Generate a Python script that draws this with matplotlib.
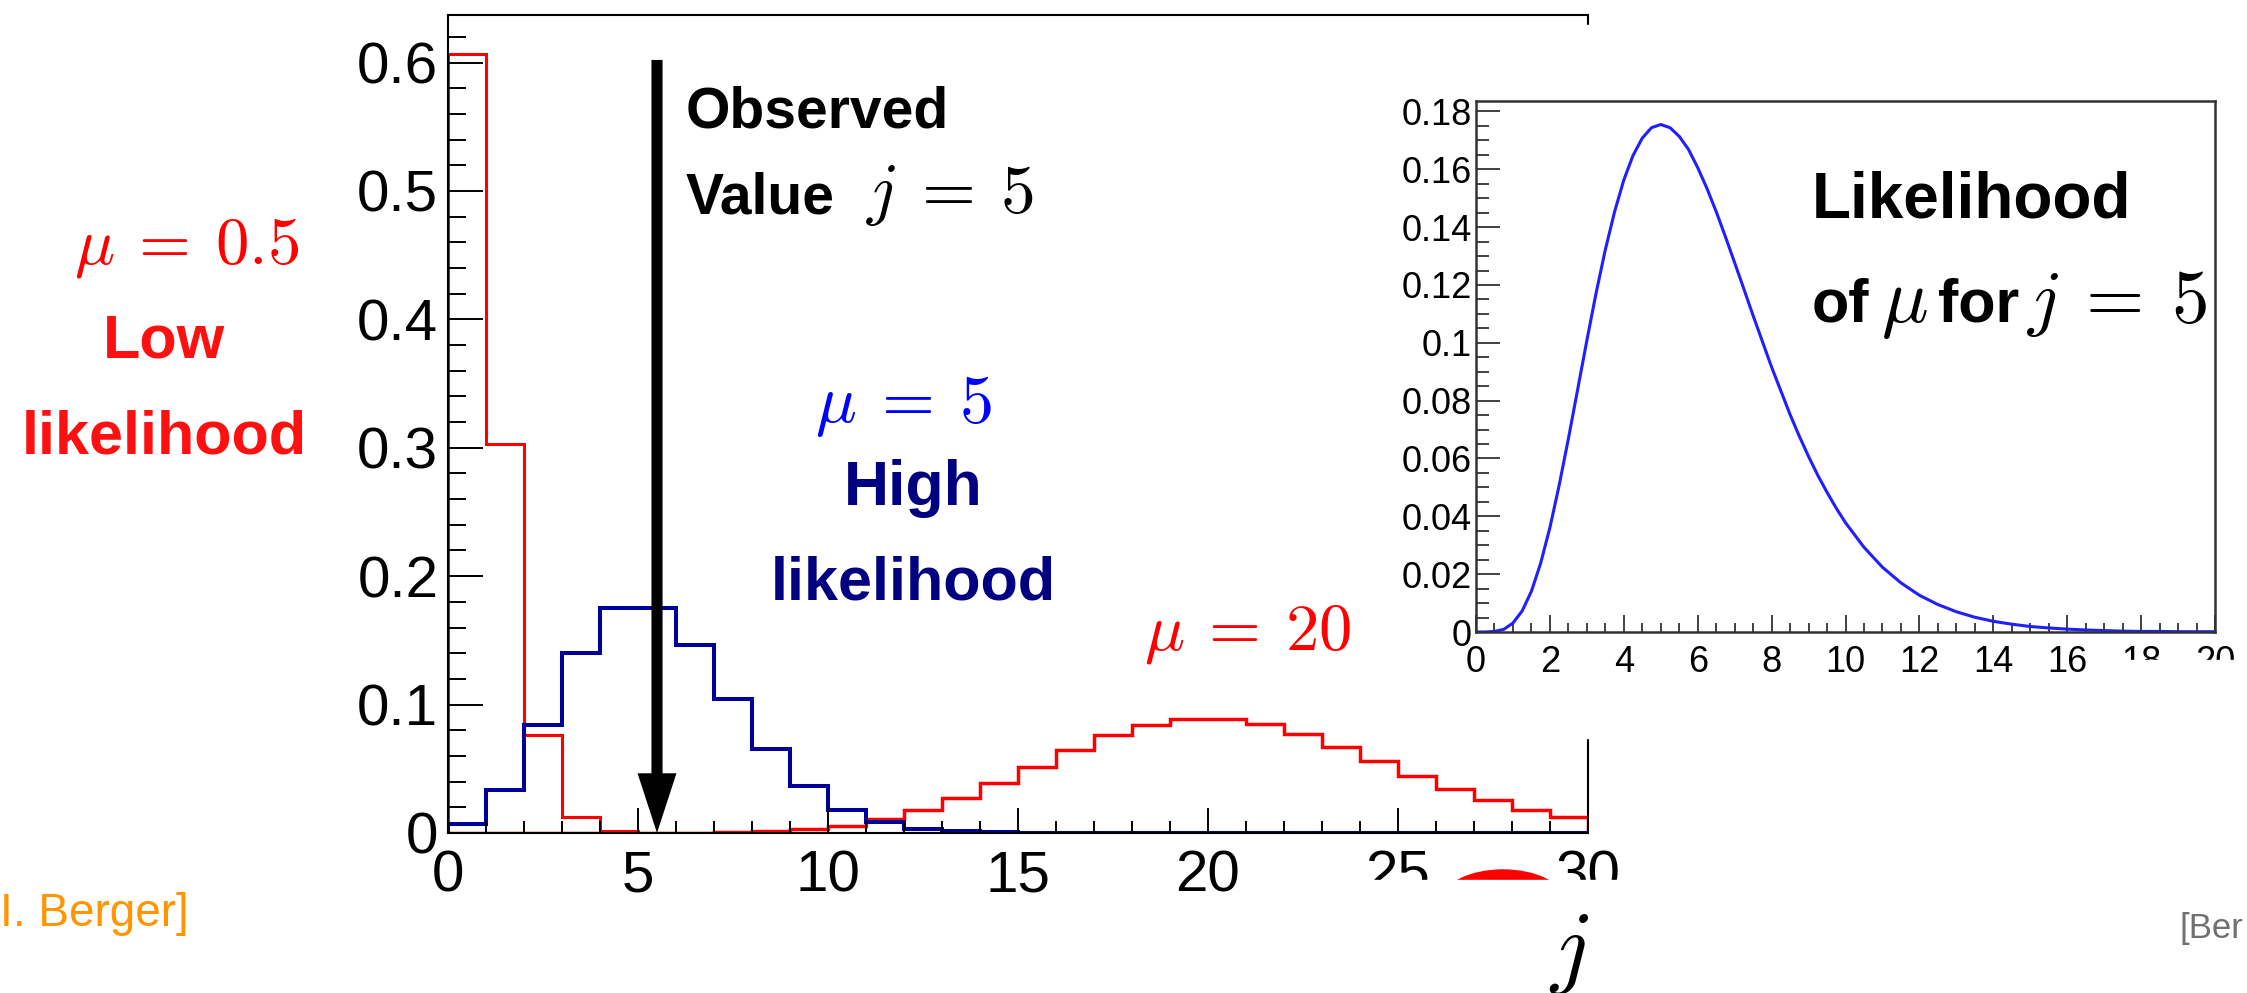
import numpy as np
import matplotlib
matplotlib.use("Agg")
import matplotlib.pyplot as plt
from matplotlib.patches import Rectangle, Ellipse
from matplotlib.ticker import MultipleLocator, FuncFormatter

plt.rcParams['mathtext.fontset'] = 'cm'
plt.rcParams['font.family'] = ['Liberation Sans', 'DejaVu Sans']

W, H = 2247, 993

# Poisson probabilities per bin j = 0..29
j_edges = np.arange(0, 31)
p_mu_low = [0.607, 0.303, 0.076, 0.0126, 0.0016, 0.0002] + [0.0] * 24
p_mu_mid = [0.0067, 0.0337, 0.0842, 0.1404, 0.1755, 0.1755, 0.1462, 0.1044,
            0.0653, 0.0363, 0.0181, 0.0082, 0.0034, 0.0013, 0.0005, 0.0002,
            0.0001] + [0.0] * 13
p_mu_high = [0.0, 0.0, 0.0, 0.0, 0.0, 0.0001, 0.0002, 0.0005, 0.0013, 0.0029,
             0.0058, 0.0106, 0.0176, 0.0271, 0.0387, 0.0516, 0.0646, 0.0760,
             0.0844, 0.0888, 0.0888, 0.0846, 0.0769, 0.0669, 0.0557, 0.0446,
             0.0343, 0.0254, 0.0181, 0.0125]
observed_j = 5

# likelihood of mu for j = 5 (inset curve)
mu_grid = [0.0, 0.25, 0.5, 0.75, 1.0, 1.25, 1.5, 1.75, 2.0, 2.25, 2.5, 2.75,
           3.0, 3.25, 3.5, 3.75, 4.0, 4.25, 4.5, 4.75, 5.0, 5.25, 5.5, 5.75,
           6.0, 6.25, 6.5, 6.75, 7.0, 7.25, 7.5, 7.75, 8.0, 8.25, 8.5, 8.75,
           9.0, 9.25, 9.5, 9.75, 10.0, 10.5, 11.0, 11.5, 12.0, 12.5, 13.0,
           13.5, 14.0, 14.5, 15.0, 15.5, 16.0, 16.5, 17.0, 17.5, 18.0, 18.5,
           19.0, 19.5, 20.0]
lik = [0.0, 0.0, 0.0002, 0.0009, 0.0031, 0.0073, 0.0141, 0.0238, 0.0361,
       0.0507, 0.0668, 0.0838, 0.1008, 0.1172, 0.1322, 0.1453, 0.1563, 0.1648,
       0.1708, 0.1744, 0.1755, 0.1744, 0.1714, 0.1669, 0.1606, 0.1534, 0.1454,
       0.1367, 0.1277, 0.1186, 0.1094, 0.1005, 0.0916, 0.0834, 0.0752, 0.0677,
       0.0607, 0.0542, 0.0483, 0.0428, 0.0378, 0.0293, 0.0224, 0.0170, 0.0127,
       0.0095, 0.0070, 0.0051, 0.0037, 0.0027, 0.0019, 0.0014, 0.0010, 0.0007,
       0.0005, 0.0003, 0.0002, 0.0002, 0.0001, 0.0001, 0.0001]


def fx(px):
    return px / W


def fy(py):
    return 1 - py / H


def txt(x, y, s, **kw):
    kw.setdefault('va', 'baseline')
    fig.text(fx(x), fy(y), s, zorder=6, **kw)


fmt = FuncFormatter(lambda v, p: f'{v:g}')

fig = plt.figure(figsize=(W / 100, H / 100), dpi=100)

# main histogram panel
ax = fig.add_axes([fx(448), fy(833), (1588 - 448) / W, (833 - 15) / H])
ax.stairs(p_mu_low, j_edges, color='#ff0000', lw=2.2)
ax.stairs(p_mu_high, j_edges, color='#ff0000', lw=2.5)
ax.stairs(p_mu_mid, j_edges, color='#000099', lw=2.9)
ax.set_xlim(0, 30)
ax.set_ylim(0, 0.637)
ax.xaxis.set_major_locator(MultipleLocator(5))
ax.xaxis.set_minor_locator(MultipleLocator(1))
ax.yaxis.set_major_locator(MultipleLocator(0.1))
ax.yaxis.set_minor_locator(MultipleLocator(0.02))
ax.xaxis.set_major_formatter(fmt)
ax.yaxis.set_major_formatter(fmt)
ax.tick_params(which='both', direction='in', top=False, right=False, width=1.4)
ax.tick_params(axis='x', which='major', length=18, labelsize=42, pad=12)
ax.tick_params(axis='x', which='minor', length=9)
ax.tick_params(axis='y', which='major', length=25, labelsize=42, pad=7)
ax.tick_params(axis='y', which='minor', length=13)
for s in ax.spines.values():
    s.set_linewidth(1.5)

ax.annotate('', xy=(observed_j + 0.5, 0), xytext=(observed_j + 0.5, 0.602),
            arrowprops=dict(width=8, headwidth=28, headlength=43, shrink=0,
                            facecolor='black', edgecolor='black', lw=0))

# white background of the pasted inset picture and other slide cover-ups
fig.add_artist(Rectangle((fx(1385), fy(738)), (W - 1385) / W, (738 - 25) / H,
                         transform=fig.transFigure, color='white', zorder=2))
fig.add_artist(Ellipse((fx(1503), fy(900)), 120 / W, 60 / H,
                       transform=fig.transFigure, color='#ff0000', zorder=1.5))
fig.add_artist(Rectangle((fx(1300), 0), 450 / W, (H - 880) / H,
                         transform=fig.transFigure, color='white', zorder=2))

# inset: likelihood of mu
ax2 = fig.add_axes([fx(1476), fy(632), (2215 - 1476) / W, (632 - 100.5) / H])
ax2.set_zorder(3)
ax2.plot(mu_grid, lik, color='#1f1fff', lw=2.2)
ax2.set_xlim(0, 20)
ax2.set_ylim(0, 0.1838)
ax2.xaxis.set_major_locator(MultipleLocator(2))
ax2.xaxis.set_minor_locator(MultipleLocator(0.5))
ax2.yaxis.set_major_locator(MultipleLocator(0.02))
ax2.yaxis.set_minor_locator(MultipleLocator(0.005))
ax2.xaxis.set_major_formatter(fmt)
ax2.yaxis.set_major_formatter(fmt)
ax2.tick_params(which='both', direction='in', top=False, right=False, width=1.3,
                color='#333333')
ax2.tick_params(axis='x', which='major', length=12, labelsize=26, pad=9)
ax2.tick_params(axis='x', which='minor', length=6.5)
ax2.tick_params(axis='y', which='major', length=17, labelsize=26, pad=3)
ax2.tick_params(axis='y', which='minor', length=9.4)
for s in ax2.spines.values():
    s.set_linewidth(1.8)
    s.set_color('#333333')

fig.add_artist(Rectangle((fx(2105), 0), (W - 2105) / W, (H - 660) / H,
                         transform=fig.transFigure, color='white', zorder=4))

# annotations
txt(187, 263, r'$\mu\:=\:0.5$', color='#ff0000', size=48, ha='center')
txt(164, 357, 'Low', color='#ff1010', size=44, weight='bold', ha='center')
txt(164, 453, 'likelihood', color='#ff1010', size=44, weight='bold', ha='center')
txt(686, 127, 'Observed', color='black', size=41, weight='bold')
txt(686, 213, 'Value', color='black', size=41, weight='bold')
txt(866, 212, r'$j\:=\:5$', color='black', size=50)
txt(903, 422, r'$\mu\:=\:5$', color='#0000ff', size=49, ha='center')
txt(913, 505, 'High', color='#000080', size=45, weight='bold', ha='center')
txt(913, 600, 'likelihood', color='#000080', size=44, weight='bold', ha='center')
txt(1144, 650, r'$\mu\:=\:20$', color='#ff0000', size=48)
txt(1812, 218, 'Likelihood', color='black', size=46, weight='bold')
txt(1812, 322, 'of', color='black', size=44, weight='bold')
txt(1881, 322, r'$\mu$', color='black', size=56)
txt(1938, 322, 'for', color='black', size=44, weight='bold')
txt(2026, 322, r'$j\:=\:5$', color='black', size=54)
txt(1569, 976, r'$j$', color='black', size=67, ha='center')
txt(0, 926, 'I. Berger]', color='#ff9500', size=33)
txt(2180, 938, '[Ber', color='#707070', size=25)

fig.savefig('out.png', dpi=100)
